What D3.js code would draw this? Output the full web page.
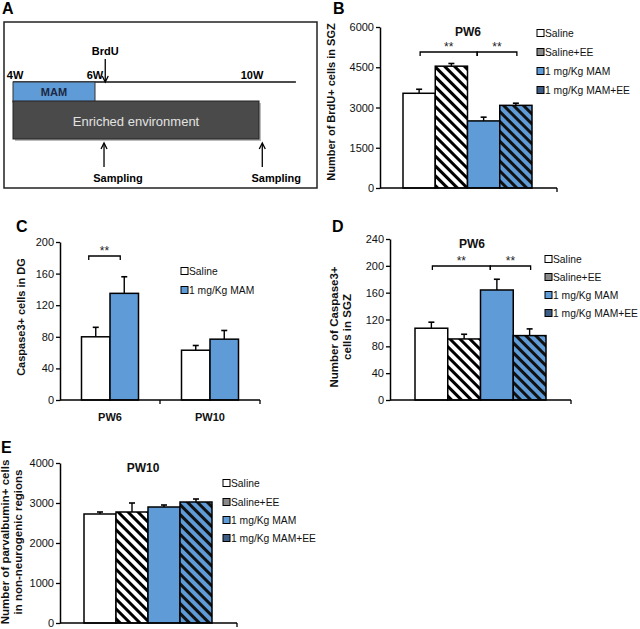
<!DOCTYPE html>
<html><head><meta charset="utf-8">
<script src="https://cdn.jsdelivr.net/npm/d3@7"></script>
<style>body{margin:0;background:#fff} svg{display:block;font-family:"Liberation Sans",Arial,sans-serif}</style>
</head><body><svg id="fig" width="640" height="629"></svg>
<script>
// ---------- data ----------
const groups4 = ["Saline", "Saline+EE", "1 mg/Kg MAM", "1 mg/Kg MAM+EE"];
const brduMean = [3530, 4540, 2500, 3080];
const brduErr = [150, 100, 140, 80];
const brduTicks = [0, 1500, 3000, 4500, 6000];

const periods = ["PW6", "PW10"];
const groups2 = ["Saline", "1 mg/Kg MAM"];
const caspDGMean = [[80, 135], [63, 77]];
const caspDGErr = [[12, 21], [6, 11]];
const caspDGTicks = [0, 40, 80, 120, 160, 200];

const caspSGZMean = [107, 91, 164, 96];
const caspSGZErr = [9, 7, 16, 10];
const caspSGZTicks = [0, 40, 80, 120, 160, 200, 240];

const pvMean = [2725, 2775, 2900, 3025];
const pvErr = [50, 225, 50, 75];
const pvTicks = [0, 1000, 2000, 3000, 4000];

const weekLabels = ["4W", "6W", "10W"];
const weekLabelAt = [4.05, 6, 9.83];
const mamWeeks = [4, 6];
const eeWeeks = [4, 10];
const brduWeek = 6.25;
const samplingWeeks = [6.22, 10.08];

// ---------- styles ----------
const BLUE = "#5f9bd6";
const fills4 = ["#fff", "url(#hatchW)", BLUE, "url(#hatchB)"];
const icon4 = ["#fff", "#8a8a8a", BLUE, "#3d5d84"];
const fills2 = ["#fff", BLUE];
const FONT = 11;
const LEGFONT = 10.3;

const svg = d3.select("#fig");
const defs = svg.append("defs");
function hatch(id, bg, fg, period, w) {
  const p = defs.append("pattern").attr("id", id).attr("patternUnits", "userSpaceOnUse")
    .attr("width", period).attr("height", period).attr("patternTransform", "rotate(-45)");
  p.append("rect").attr("width", period).attr("height", period).attr("fill", bg);
  p.append("rect").attr("width", w).attr("height", period).attr("fill", fg);
}
hatch("hatchW", "#fff", "#000", 7, 3);
hatch("hatchB", BLUE, "#111", 7, 3);

const letter = (x, y, t) => svg.append("text").attr("x", x).attr("y", y).attr("font-size", 16)
  .attr("font-weight", "bold").text(t);

// ---------- Panel A ----------
(function () {
  const g = svg.append("g");
  const wx = d3.scaleLinear().domain([4, 10]).range([13, 259]);
  g.append("rect").attr("x", 4).attr("y", 22).attr("width", 313).attr("height", 166)
    .attr("fill", "#fff").attr("stroke", "#222").attr("stroke-width", 1.5);
  g.append("line").attr("x1", wx(4)).attr("x2", wx(10.9)).attr("y1", 82).attr("y2", 82)
    .attr("stroke", "#111").attr("stroke-width", 1.4);
  g.append("rect").attr("x", wx(mamWeeks[0])).attr("y", 82).attr("width", wx(mamWeeks[1]) - wx(mamWeeks[0]))
    .attr("height", 20).attr("fill", BLUE).attr("stroke", "#333").attr("stroke-width", 1);
  g.append("text").attr("x", (wx(mamWeeks[0]) + wx(mamWeeks[1])) / 2).attr("y", 96).attr("text-anchor", "middle")
    .attr("font-size", 11).attr("font-weight", "bold").attr("fill", "#1b2745").text("MAM");
  g.append("rect").attr("x", wx(eeWeeks[0]) + 2).attr("y", 103).attr("width", wx(eeWeeks[1]) - wx(eeWeeks[0]))
    .attr("height", 38).attr("fill", "#bbb");
  g.append("rect").attr("x", wx(eeWeeks[0])).attr("y", 101).attr("width", wx(eeWeeks[1]) - wx(eeWeeks[0]))
    .attr("height", 38).attr("fill", "#4a4a4a").attr("stroke", "#222").attr("stroke-width", 1);
  g.append("text").attr("x", 136).attr("y", 126).attr("text-anchor", "middle")
    .attr("font-size", 13).attr("fill", "#e2e2e2").text("Enriched environment");
  weekLabels.forEach((t, i) => g.append("text").attr("x", wx(weekLabelAt[i])).attr("y", 79)
    .attr("text-anchor", "middle").attr("font-size", 11).attr("font-weight", "bold").text(t));
  const bx = wx(brduWeek);
  g.append("text").attr("x", bx).attr("y", 55).attr("text-anchor", "middle")
    .attr("font-size", 11).attr("font-weight", "bold").text("BrdU");
  g.append("line").attr("x1", bx).attr("x2", bx).attr("y1", 59).attr("y2", 81).attr("stroke", "#000").attr("stroke-width", 1.3);
  g.append("path").attr("d", `M${bx - 3},76 L${bx},82 L${bx + 3},76`).attr("fill", "none").attr("stroke", "#000").attr("stroke-width", 1.3);
  samplingWeeks.forEach(w => {
    const sx = wx(w);
    g.append("line").attr("x1", sx).attr("x2", sx).attr("y1", 144).attr("y2", 167).attr("stroke", "#000").attr("stroke-width", 1.3);
    g.append("path").attr("d", `M${sx - 3},149 L${sx},143 L${sx + 3},149`).attr("fill", "none").attr("stroke", "#000").attr("stroke-width", 1.3);
    g.append("text").attr("x", sx + 14).attr("y", 182).attr("text-anchor", "middle")
      .attr("font-size", 11).attr("font-weight", "bold").text("Sampling");
  });
  letter(2, 14, "A");
})();

// ---------- helpers ----------
function yAxis(g, ax, y, ticks) {
  const a = g.append("g").attr("transform", `translate(${ax},0)`)
    .call(d3.axisLeft(y).tickValues(ticks).tickSize(4).tickSizeOuter(0).tickFormat(d3.format("d")));
  a.select(".domain").attr("stroke", "#000").attr("stroke-width", 1.5);
  a.selectAll(".tick line").attr("stroke", "#000").attr("stroke-width", 1.3);
  a.selectAll(".tick text").attr("font-size", FONT).attr("fill", "#111")
    .attr("font-family", "'Liberation Sans',Arial,sans-serif").attr("x", -6);
}
function xLine(g, x1, x2, y0, tickXs) {
  g.append("line").attr("x1", x1).attr("x2", x2).attr("y1", y0).attr("y2", y0).attr("stroke", "#000").attr("stroke-width", 1.5);
  tickXs.forEach(t => g.append("line").attr("x1", t).attr("x2", t).attr("y1", y0).attr("y2", y0 + 4)
    .attr("stroke", "#000").attr("stroke-width", 1.3));
}
function errBar(g, cx, yTop, yErr) {
  g.append("line").attr("x1", cx).attr("x2", cx).attr("y1", yTop).attr("y2", yErr).attr("stroke", "#000").attr("stroke-width", 1.4);
  g.append("line").attr("x1", cx - 3).attr("x2", cx + 3).attr("y1", yErr).attr("y2", yErr).attr("stroke", "#000").attr("stroke-width", 1.6);
}
function bracket(g, x1, x2, yb, label) {
  g.append("path").attr("d", `M${x1},${yb + 4}V${yb}H${x2}V${yb + 4}`).attr("fill", "none")
    .attr("stroke", "#000").attr("stroke-width", 1.3);
  g.append("text").attr("x", (x1 + x2) / 2).attr("y", yb - 1).attr("text-anchor", "middle")
    .attr("font-size", 12).attr("fill", "#222").text(label);
}
function legend(g, x, ys, labels, fills) {
  labels.forEach((t, i) => {
    g.append("rect").attr("x", x).attr("y", ys[i] - 3.5).attr("width", 7).attr("height", 7)
      .attr("fill", fills[i]).attr("stroke", "#000").attr("stroke-width", 1);
    g.append("text").attr("x", x + 8).attr("y", ys[i] + 4).attr("font-size", LEGFONT).attr("fill", "#111").text(t);
  });
}
function yTitle(g, x, cy, lines, fs) {
  lines.forEach((t, i) => g.append("text").attr("transform", `translate(${x + i * 12.5},${cy}) rotate(-90)`)
    .attr("text-anchor", "middle").attr("font-size", fs).attr("font-weight", "bold").attr("fill", "#111").text(t));
}
function panel4(o) {
  const g = svg.append("g");
  const x = d3.scaleBand().domain(groups4).range([o.b0, o.b1]).padding(0);
  const y = d3.scaleLinear().domain([0, o.max]).range([o.y0, o.yTop]);
  g.selectAll("rect.bar").data(groups4).join("rect").attr("class", "bar")
    .attr("x", d => x(d)).attr("width", x.bandwidth())
    .attr("y", (d, i) => y(o.mean[i])).attr("height", (d, i) => o.y0 - y(o.mean[i]))
    .attr("fill", (d, i) => fills4[i]).attr("stroke", "#000").attr("stroke-width", 1.5);
  groups4.forEach((d, i) => errBar(g, x(d) + x.bandwidth() / 2, y(o.mean[i]), y(o.mean[i] + o.err[i])));
  yAxis(g, o.ax, y, o.ticks);
  xLine(g, o.ax, o.xEnd, o.y0, [o.xEnd]);
  g.append("text").attr("x", o.titleX).attr("y", o.titleY).attr("text-anchor", "middle")
    .attr("font-size", 12).attr("font-weight", "bold").attr("fill", "#111").text(o.title);
  if (o.brY) {
    const mid = x(groups4[2]) + x.bandwidth() * 0.3;
    bracket(g, x(groups4[0]) + x.bandwidth() / 2 + 1, mid, o.brY, "**");
    bracket(g, mid, x(groups4[3]) + x.bandwidth() / 2 + 1, o.brY, "**");
  }
  legend(g, o.legX, o.legY, groups4, icon4);
  yTitle(g, o.labX, o.labY, o.lab, o.labFs);
  return g;
}

// ---------- Panel B ----------
panel4({ b0: 403, b1: 532, ax: 380, xEnd: 557, y0: 188, yTop: 27, max: 6000, ticks: brduTicks,
  mean: brduMean, err: brduErr, title: "PW6", titleX: 468, titleY: 36, brY: 52,
  legX: 537, legY: [33, 52, 71, 90], labX: 335, labY: 102, lab: ["Number of BrdU+ cells in SGZ"], labFs: 11 });
letter(333, 14, "B");

// ---------- Panel C ----------
(function () {
  const g = svg.append("g");
  const x0 = d3.scaleBand().domain(periods).range([60, 260]).paddingInner(0.43).paddingOuter(0.215);
  const x1 = d3.scaleBand().domain(groups2).range([0, x0.bandwidth()]);
  const y = d3.scaleLinear().domain([0, 200]).range([400, 242]);
  periods.forEach((p, pi) => {
    groups2.forEach((s, si) => {
      const bx = x0(p) + x1(s);
      g.append("rect").attr("x", bx).attr("width", x1.bandwidth()).attr("y", y(caspDGMean[pi][si]))
        .attr("height", 400 - y(caspDGMean[pi][si])).attr("fill", fills2[si]).attr("stroke", "#000").attr("stroke-width", 1.5);
      errBar(g, bx + x1.bandwidth() / 2, y(caspDGMean[pi][si]), y(caspDGMean[pi][si] + caspDGErr[pi][si]));
    });
    g.append("text").attr("x", x0(p) + x0.bandwidth() / 2).attr("y", 421).attr("text-anchor", "middle")
      .attr("font-size", FONT).attr("font-weight", "bold").attr("fill", "#111").text(p);
  });
  yAxis(g, 60, y, caspDGTicks);
  xLine(g, 60, 260, 400, [160, 260]);
  const bx1 = x0("PW6") + x1(groups2[0]) + x1.bandwidth() / 2 - 7;
  const bx2 = x0("PW6") + x1(groups2[1]) + x1.bandwidth() / 2 - 4;
  bracket(g, bx1, bx2, 256, "**");
  legend(g, 181, [271, 290], groups2, fills2);
  yTitle(g, 25, 317, ["Caspase3+ cells in DG"], 11);
})();
letter(16, 232, "C");

// ---------- Panel D ----------
panel4({ b0: 415, b1: 546, ax: 390, xEnd: 571, y0: 400, yTop: 239, max: 240, ticks: caspSGZTicks,
  mean: caspSGZMean, err: caspSGZErr, title: "PW6", titleX: 472, titleY: 248, brY: 266,
  legX: 545, legY: [259, 277, 295, 313], labX: 338, labY: 327, lab: ["Number of Caspase3+", "cells in SGZ"], labFs: 11.5 });
letter(332, 232, "D");

// ---------- Panel E ----------
panel4({ b0: 84, b1: 212, ax: 60, xEnd: 237, y0: 623, yTop: 463, max: 4000, ticks: pvTicks,
  mean: pvMean, err: pvErr, title: "PW10", titleX: 143, titleY: 472, brY: null,
  legX: 223, legY: [483, 502, 520, 538], labX: 9, labY: 542,
  lab: ["Number of parvalbumin+ cells", "in non-neurogenic regions"], labFs: 11.5 });
letter(1, 453, "E");
</script></body></html>
